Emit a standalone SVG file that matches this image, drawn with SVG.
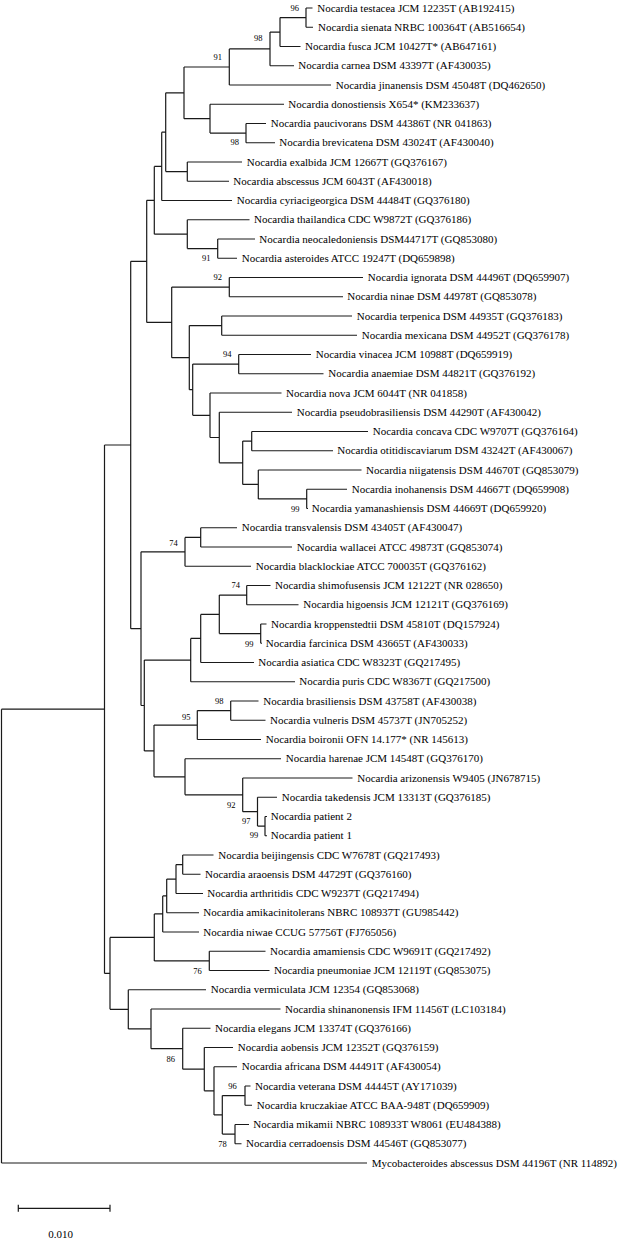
<svg xmlns="http://www.w3.org/2000/svg" width="618" height="1241" viewBox="0 0 618 1241">
<style>
.t{font-family:"Liberation Serif","Times New Roman",serif;font-size:11px;fill:#000}
.b{font-family:"Liberation Serif","Times New Roman",serif;font-size:8.5px;fill:#000;text-anchor:end}
.br{fill:none;stroke:#1a1a1a;stroke-width:1.2}
</style>
<rect width="618" height="1241" fill="#fff"/>
<g id="connectors">
<path class="br" d="M1.5 709.2V1163M1.5 709.2H104.5M1.5 1163H367
M104.5 445V973.4M104.5 445H130.7M104.5 973.4H110
M130.7 261.3V628.7M130.7 261.3H146.7M130.7 628.7H141
M146.7 200.3V322.4M146.7 200.3H154.3M146.7 322.4H171.7
M154.3 166.4V234.2M154.3 166.4H161.7M154.3 234.2H187.3
M161.7 132.2V200.5M161.7 132.2H165.7M161.7 200.5H232
M165.7 92.8V171.6M165.7 92.8H184M165.7 171.6H187.3
M184 67V118.7M184 67H229.3M184 118.7H210
M229.3 48.9V85M229.3 48.9H270M229.3 85H331
M270 32.1V65.75M270 32.1H280M270 65.75H294
M280 17.6V46.5M280 17.6H306M280 46.5H300.5
M306 8V27.25M306 8H312.5M306 27.25H313
M210 104.25V133.1M210 104.25H284M210 133.1H246
M246 123.5V142.75M246 123.5H266M246 142.75H275
M187.3 162V181.25M187.3 162H242M187.3 181.25H229
M187.3 219.75V248.6M187.3 219.75H249.5M187.3 248.6H217.7
M217.7 239V258.25M217.7 239H255M217.7 258.25H237
M171.7 287.1V357.7M171.7 287.1H229.3M171.7 357.7H189.3
M229.3 277.5V296.75M229.3 277.5H363M229.3 296.75H343
M189.3 325.6V389.7M189.3 325.6H221.7M189.3 389.7H192.7
M221.7 316V335.25M221.7 316H352M221.7 335.25H357
M192.7 364.1V415.3M192.7 364.1H238.7M192.7 415.3H210
M238.7 354.5V373.75M238.7 354.5H311M238.7 373.75H323.5
M210 393V437.5M210 393H281.5M210 437.5H219.3
M219.3 412.25V462.8M219.3 412.25H292M219.3 462.8H242.7
M242.7 441.1V484.4M242.7 441.1H251.7M242.7 484.4H258.3
M251.7 431.5V450.75M251.7 431.5H368M251.7 450.75H333
M258.3 470V498.9M258.3 470H361.5M258.3 498.9H306.7
M306.7 489.25V508.5M306.7 489.25H347M306.7 508.5H308
M141 551.8V705.5M141 551.8H185M141 705.5H144.3
M185 537.4V566.25M185 537.4H200.7M185 566.25H251
M200.7 527.75V547M200.7 527.75H237M200.7 547H292
M144.3 660.1V750.9M144.3 660.1H190.7M144.3 750.9H154
M190.7 638.4V681.75M190.7 638.4H200.7M190.7 681.75H295
M200.7 614.4V662.5M200.7 614.4H219.3M200.7 662.5H254
M219.3 595.1V633.6M219.3 595.1H246.7M219.3 633.6H260.7
M246.7 585.5V604.75M246.7 585.5H270.5M246.7 604.75H298.5
M260.7 624V643.25M260.7 624H266.5M260.7 643.25H262
M154 725.1V776.8M154 725.1H197.3M154 776.8H185
M197.3 710.6V739.5M197.3 710.6H230.7M197.3 739.5H261
M230.7 701V720.25M230.7 701H258.5M230.7 720.25H265.5
M185 758.75V794.8M185 758.75H281M185 794.8H242.7
M242.7 778V811.7M242.7 778H352.5M242.7 811.7H257.5
M257.5 797.25V826.1M257.5 797.25H277M257.5 826.1H265
M265 816.5V835.75M265 816.5H267M265 835.75H267
M110 937.4V1009.3M110 937.4H154.3M110 1009.3H128.3
M154.3 913.95V960.9M154.3 913.95H162.7M154.3 960.9H209.3
M162.7 895.9V932M162.7 895.9H166.7M162.7 932H199
M166.7 879.1V912.75M166.7 879.1H176M166.7 912.75H199
M176 864.6V893.5M176 864.6H182.7M176 893.5H203
M182.7 855V874.25M182.7 855H213.5M182.7 874.25H200.5
M209.3 951.25V970.5M209.3 951.25H265.5M209.3 970.5H269.5
M128.3 989.75V1028.9M128.3 989.75H206M128.3 1028.9H151
M151 1009V1048.7M151 1009H280.5M151 1048.7H182.7
M182.7 1028.25V1069.2M182.7 1028.25H210.5M182.7 1069.2H204.3
M204.3 1047.5V1090.8M204.3 1047.5H233M204.3 1090.8H214
M214 1066.75V1114.9M214 1066.75H237M214 1114.9H222.3
M222.3 1095.6V1134.1M222.3 1095.6H245M222.3 1134.1H235
M245 1086V1105.25M245 1086H250.5M245 1105.25H252
M235 1124.5V1143.75M235 1124.5H249M235 1143.75H241.5"/>
</g>
<g id="bootstrap">
<text class="b" x="299" y="10.5">96</text>
<text class="b" x="262.5" y="40.5">98</text>
<text class="b" x="222" y="60">91</text>
<text class="b" x="239" y="145">98</text>
<text class="b" x="210.5" y="260.5">91</text>
<text class="b" x="222" y="280">92</text>
<text class="b" x="231.5" y="357">94</text>
<text class="b" x="299.5" y="511.5">99</text>
<text class="b" x="177.7" y="545.5">74</text>
<text class="b" x="240" y="588">74</text>
<text class="b" x="253.5" y="646.5">99</text>
<text class="b" x="223.5" y="704">98</text>
<text class="b" x="190.5" y="720">95</text>
<text class="b" x="235.5" y="808">92</text>
<text class="b" x="250.5" y="824">97</text>
<text class="b" x="258.3" y="837.5">99</text>
<text class="b" x="201.7" y="974">76</text>
<text class="b" x="175" y="1061.5">86</text>
<text class="b" x="236.7" y="1089">96</text>
<text class="b" x="226.7" y="1147">78</text>
</g>
<g id="taxa">
<g id="n1"><text class="t" x="317.3" y="11.5">Nocardia testacea JCM 12235T (AB192415)</text></g>
<g id="n2"><text class="t" x="318" y="30.75">Nocardia sienata NRBC 100364T (AB516654)</text></g>
<g id="n3"><text class="t" x="305" y="50">Nocardia fusca JCM 10427T* (AB647161)</text></g>
<g id="n4"><text class="t" x="298.3" y="69.25">Nocardia carnea DSM 43397T (AF430035)</text></g>
<g id="n5"><text class="t" x="335.7" y="88.5">Nocardia jinanensis DSM 45048T (DQ462650)</text></g>
<g id="n6"><text class="t" x="288.3" y="107.75">Nocardia donostiensis X654* (KM233637)</text></g>
<g id="n7"><text class="t" x="270.7" y="127">Nocardia paucivorans DSM 44386T (NR 041863)</text></g>
<g id="n8"><text class="t" x="279.3" y="146.25">Nocardia brevicatena DSM 43024T (AF430040)</text></g>
<g id="n9"><text class="t" x="246.7" y="165.5">Nocardia exalbida JCM 12667T (GQ376167)</text></g>
<g id="n10"><text class="t" x="233.3" y="184.75">Nocardia abscessus JCM 6043T (AF430018)</text></g>
<g id="n11"><text class="t" x="236.7" y="204">Nocardia cyriacigeorgica DSM 44484T (GQ376180)</text></g>
<g id="n12"><text class="t" x="254" y="223.25">Nocardia thailandica CDC W9872T (GQ376186)</text></g>
<g id="n13"><text class="t" x="259.3" y="242.5">Nocardia neocaledoniensis DSM44717T (GQ853080)</text></g>
<g id="n14"><text class="t" x="241.7" y="261.75">Nocardia asteroides ATCC 19247T (DQ659898)</text></g>
<g id="n15"><text class="t" x="367.7" y="281">Nocardia ignorata DSM 44496T (DQ659907)</text></g>
<g id="n16"><text class="t" x="347.3" y="300.25">Nocardia ninae DSM 44978T (GQ853078)</text></g>
<g id="n17"><text class="t" x="356.7" y="319.5">Nocardia terpenica DSM 44935T (GQ376183)</text></g>
<g id="n18"><text class="t" x="361.7" y="338.75">Nocardia mexicana DSM 44952T (GQ376178)</text></g>
<g id="n19"><text class="t" x="315.7" y="358">Nocardia vinacea JCM 10988T (DQ659919)</text></g>
<g id="n20"><text class="t" x="328.3" y="377.25">Nocardia anaemiae DSM 44821T (GQ376192)</text></g>
<g id="n21"><text class="t" x="286" y="396.5">Nocardia nova JCM 6044T (NR 041858)</text></g>
<g id="n22"><text class="t" x="296.7" y="415.75">Nocardia pseudobrasiliensis DSM 44290T (AF430042)</text></g>
<g id="n23"><text class="t" x="372.7" y="435">Nocardia concava CDC W9707T (GQ376164)</text></g>
<g id="n24"><text class="t" x="337.3" y="454.25">Nocardia otitidiscaviarum DSM 43242T (AF430067)</text></g>
<g id="n25"><text class="t" x="366" y="473.5">Nocardia niigatensis DSM 44670T (GQ853079)</text></g>
<g id="n26"><text class="t" x="351.7" y="492.75">Nocardia inohanensis DSM 44667T (DQ659908)</text></g>
<g id="n27"><text class="t" x="311.7" y="512">Nocardia yamanashiensis DSM 44669T (DQ659920)</text></g>
<g id="n28"><text class="t" x="241.7" y="531.25">Nocardia transvalensis DSM 43405T (AF430047)</text></g>
<g id="n29"><text class="t" x="296.7" y="550.5">Nocardia wallacei ATCC 49873T (GQ853074)</text></g>
<g id="n30"><text class="t" x="255.7" y="569.75">Nocardia blacklockiae ATCC 700035T (GQ376162)</text></g>
<g id="n31"><text class="t" x="275" y="589">Nocardia shimofusensis JCM 12122T (NR 028650)</text></g>
<g id="n32"><text class="t" x="303.3" y="608.25">Nocardia higoensis JCM 12121T (GQ376169)</text></g>
<g id="n33"><text class="t" x="271" y="627.5">Nocardia kroppenstedtii DSM 45810T (DQ157924)</text></g>
<g id="n34"><text class="t" x="265.7" y="646.75">Nocardia farcinica DSM 43665T (AF430033)</text></g>
<g id="n35"><text class="t" x="258.3" y="666">Nocardia asiatica CDC W8323T (GQ217495)</text></g>
<g id="n36"><text class="t" x="299.3" y="685.25">Nocardia puris CDC W8367T (GQ217500)</text></g>
<g id="n37"><text class="t" x="263.3" y="704.5">Nocardia brasiliensis DSM 43758T (AF430038)</text></g>
<g id="n38"><text class="t" x="270" y="723.75">Nocardia vulneris DSM 45737T (JN705252)</text></g>
<g id="n39"><text class="t" x="265.7" y="743">Nocardia boironii OFN 14.177* (NR 145613)</text></g>
<g id="n40"><text class="t" x="285.7" y="762.25">Nocardia harenae JCM 14548T (GQ376170)</text></g>
<g id="n41"><text class="t" x="357.3" y="781.5">Nocardia arizonensis W9405 (JN678715)</text></g>
<g id="n42"><text class="t" x="281.7" y="800.75">Nocardia takedensis JCM 13313T (GQ376185)</text></g>
<g id="n43"><text class="t" x="270.7" y="820">Nocardia patient 2</text></g>
<g id="n44"><text class="t" x="270.7" y="839.25">Nocardia patient 1</text></g>
<g id="n45"><text class="t" x="218.3" y="858.5">Nocardia beijingensis CDC W7678T (GQ217493)</text></g>
<g id="n46"><text class="t" x="205" y="877.75">Nocardia araoensis DSM 44729T (GQ376160)</text></g>
<g id="n47"><text class="t" x="207.3" y="897">Nocardia arthritidis CDC W9237T (GQ217494)</text></g>
<g id="n48"><text class="t" x="203.3" y="916.25">Nocardia amikacinitolerans NBRC 108937T (GU985442)</text></g>
<g id="n49"><text class="t" x="203.3" y="935.5">Nocardia niwae CCUG 57756T (FJ765056)</text></g>
<g id="n50"><text class="t" x="270" y="954.75">Nocardia amamiensis CDC W9691T (GQ217492)</text></g>
<g id="n51"><text class="t" x="274" y="974">Nocardia pneumoniae JCM 12119T (GQ853075)</text></g>
<g id="n52"><text class="t" x="210.7" y="993.25">Nocardia vermiculata JCM 12354 (GQ853068)</text></g>
<g id="n53"><text class="t" x="285" y="1012.5">Nocardia shinanonensis IFM 11456T (LC103184)</text></g>
<g id="n54"><text class="t" x="215" y="1031.75">Nocardia elegans JCM 13374T (GQ376166)</text></g>
<g id="n55"><text class="t" x="237.7" y="1051">Nocardia aobensis JCM 12352T (GQ376159)</text></g>
<g id="n56"><text class="t" x="241.7" y="1070.25">Nocardia africana DSM 44491T (AF430054)</text></g>
<g id="n57"><text class="t" x="255" y="1089.5">Nocardia veterana DSM 44445T (AY171039)</text></g>
<g id="n58"><text class="t" x="256.7" y="1108.75">Nocardia kruczakiae ATCC BAA-948T (DQ659909)</text></g>
<g id="n59"><text class="t" x="253.3" y="1128">Nocardia mikamii NBRC 108933T W8061 (EU484388)</text></g>
<g id="n60"><text class="t" x="246" y="1147.25">Nocardia cerradoensis DSM 44546T (GQ853077)</text></g>
<g id="n61"><text class="t" x="371.7" y="1166.5">Mycobacteroides abscessus DSM 44196T (NR 114892)</text></g>
</g>
<g id="scale">
<path class="br" d="M18.3 1208.3H110M18.3 1204.8V1211.8M110 1204.8V1211.8"/>
<text class="t" x="60.5" y="1238" text-anchor="middle">0.010</text>
</g>
</svg>
